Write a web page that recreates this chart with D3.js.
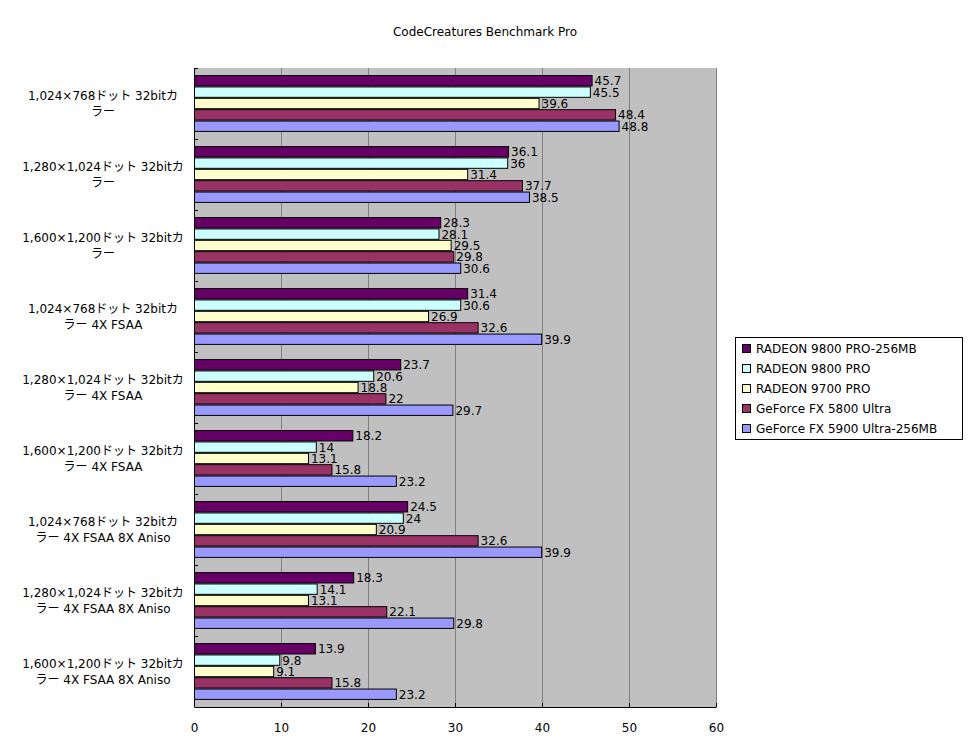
<!DOCTYPE html>
<html>
<head>
<meta charset="utf-8">
<script src="https://cdn.jsdelivr.net/npm/d3@7"></script>
<style>
body{margin:0;background:#fff;}
svg text{font-family:"DejaVu Sans","Noto Sans CJK JP",sans-serif;font-size:12px;fill:#000;}
</style>
</head>
<body>
<svg id="chart" width="972" height="754"></svg>
<script>
// categories (each label split into two lines)
var categories = [
    ["1,024×768ドット 32bitカ","ラー"],
    ["1,280×1,024ドット 32bitカ","ラー"],
    ["1,600×1,200ドット 32bitカ","ラー"],
    ["1,024×768ドット 32bitカ","ラー 4X FSAA"],
    ["1,280×1,024ドット 32bitカ","ラー 4X FSAA"],
    ["1,600×1,200ドット 32bitカ","ラー 4X FSAA"],
    ["1,024×768ドット 32bitカ","ラー 4X FSAA 8X Aniso"],
    ["1,280×1,024ドット 32bitカ","ラー 4X FSAA 8X Aniso"],
    ["1,600×1,200ドット 32bitカ","ラー 4X FSAA 8X Aniso"]
];
var seriesNames = ["RADEON 9800 PRO-256MB","RADEON 9800 PRO","RADEON 9700 PRO","GeForce FX 5800 Ultra","GeForce FX 5900 Ultra-256MB"];
var seriesColors = ["#660066","#ccffff","#ffffcc","#993366","#9999ff"];
var radeon9800pro256 = [45.7,36.1,28.3,31.4,23.7,18.2,24.5,18.3,13.9];
var radeon9800pro    = [45.5,36,28.1,30.6,20.6,14,24,14.1,9.8];
var radeon9700pro    = [39.6,31.4,29.5,26.9,18.8,13.1,20.9,13.1,9.1];
var geforce5800      = [48.4,37.7,29.8,32.6,22,15.8,32.6,22.1,15.8];
var geforce5900      = [48.8,38.5,30.6,39.9,29.7,23.2,39.9,29.8,23.2];
var xTicks = [0,10,20,30,40,50,60];

var seriesValues = [radeon9800pro256,radeon9800pro,radeon9700pro,geforce5800,geforce5900];

var svg = d3.select("#chart");
var plotLeft = 194, plotRight = 716, plotTop = 68, plotBottom = 707;

var x = d3.scaleLinear().domain([0,60]).range([plotLeft,plotRight]);
var y = d3.scaleBand().domain(d3.range(categories.length)).range([plotTop,plotBottom]).paddingInner(0.2).paddingOuter(0.1);
var yb = d3.scaleBand().domain(d3.range(seriesNames.length)).range([0,y.bandwidth()]);

// plot background
svg.append("rect").attr("x",plotLeft).attr("y",plotTop).attr("width",plotRight-plotLeft).attr("height",plotBottom-plotTop).attr("fill","#c0c0c0");

// grid
svg.selectAll(".grid").data(xTicks.slice(1)).enter().append("line")
    .attr("x1",function(d){return Math.round(x(d))+0.5;}).attr("x2",function(d){return Math.round(x(d))+0.5;})
    .attr("y1",plotTop).attr("y2",plotBottom)
    .attr("stroke","#808080").attr("stroke-width",1);

// bars
var groups = svg.selectAll(".cat").data(categories).enter().append("g")
    .attr("transform",function(d,i){return "translate(0,"+y(i)+")";});

groups.each(function(c,ci){
    var g = d3.select(this);
    seriesValues.forEach(function(vals,si){
        g.append("rect")
            .attr("x",x(0)+0.5).attr("y",yb(si)+0.5)
            .attr("width",x(vals[ci])-x(0)).attr("height",yb.bandwidth()-1)
            .attr("fill",seriesColors[si]).attr("stroke","#000").attr("stroke-width",1);
        g.append("text")
            .attr("x",x(vals[ci])+3).attr("y",yb(si)+yb.bandwidth()/2+4.5)
            .text(vals[ci]);
    });
});

// axes
var xAxis = d3.axisBottom(x).tickValues(xTicks).tickSizeInner(-4).tickSizeOuter(0).tickPadding(16);
var gx = svg.append("g").attr("transform","translate(0,"+plotBottom+")").call(xAxis);
gx.selectAll("text").style("font-size","12px").style("font-family","DejaVu Sans");
gx.select(".domain").attr("stroke","#000");

svg.append("line").attr("x1",plotLeft+0.5).attr("x2",plotLeft+0.5).attr("y1",plotTop).attr("y2",plotBottom).attr("stroke","#000");
var bandStep = (plotBottom-plotTop)/categories.length;
svg.selectAll(".ytick").data(d3.range(categories.length)).enter().append("line")
    .attr("x1",plotLeft).attr("x2",plotLeft+4)
    .attr("y1",function(d){return Math.round(plotTop+d*bandStep)+0.5;}).attr("y2",function(d){return Math.round(plotTop+d*bandStep)+0.5;})
    .attr("stroke","#000");

// category labels
svg.selectAll(".clabel").data(categories).enter().append("text")
    .attr("text-anchor","middle")
    .attr("y",function(d,i){return plotTop+i*bandStep+bandStep/2-4;})
    .each(function(d){
        var t = d3.select(this);
        d.forEach(function(line,li){
            t.append("tspan").attr("x",103).attr("dy",li==0?0:16).text(line);
        });
    });

// title
svg.append("text").attr("x",485).attr("y",36).attr("text-anchor","middle").text("CodeCreatures Benchmark Pro");

// legend
var lg = svg.append("g").attr("transform","translate(735,337)");
lg.append("rect").attr("x",0.5).attr("y",0.5).attr("width",227).attr("height",102).attr("fill","#fff").attr("stroke","#000");
seriesNames.forEach(function(name,i){
    lg.append("rect").attr("x",7.5).attr("y",7.5+i*20).attr("width",8).attr("height",8)
        .attr("fill",seriesColors[i]).attr("stroke","#000");
    lg.append("text").attr("x",21).attr("y",16+i*20).text(name);
});
</script>
</body>
</html>
